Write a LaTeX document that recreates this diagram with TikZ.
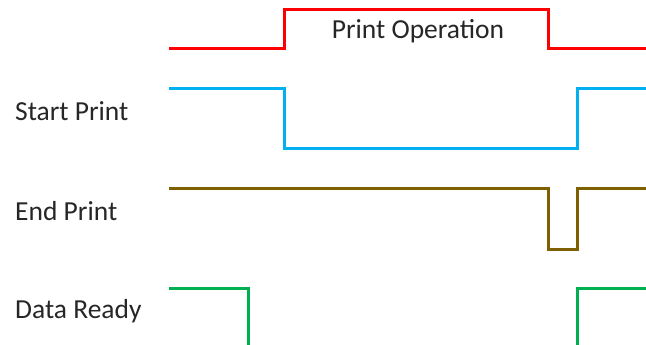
\documentclass[tikz,border=0pt]{standalone}
\usepackage{fontspec}
\setmainfont{Carlito}
\definecolor{opred}{HTML}{FF0000}
\definecolor{startblue}{HTML}{00B0F0}
\definecolor{endbrown}{HTML}{7F6000}
\definecolor{readygreen}{HTML}{00B050}
\tikzset{
  wave/.style={line width=3pt, line join=miter, line cap=butt},
  labelfont/.style={font=\fontsize{27.5}{32}\selectfont, text=black!85},
  siglabel/.style={labelfont, anchor=west, inner sep=0pt}
}
\begin{document}
\begin{tikzpicture}[x=1pt, y=-1pt]
  \useasboundingbox (0,0) rectangle (646,345);
  % Print Operation window
  \draw[wave, opred] (169,49) -- (284,49) -- (284,10) -- (548,10) -- (548,49) -- (646,49);
  \node[labelfont, inner sep=0pt] (op) at (418,31) {Print Operation};
  % Start Print
  \node[siglabel] (sp) at (15,111) {Start Print};
  \draw[wave, startblue] (169,89) -- (284,89) -- (284,148) -- (577,148) -- (577,89) -- (646,89);
  % End Print
  \node[siglabel] (ep) at (15,211) {End Print};
  \draw[wave, endbrown] (169,188) -- (548,188) -- (548,249) -- (577,249) -- (577,188) -- (646,188);
  % Data Ready
  \node[siglabel] (dr) at (15,311) {Data Ready};
  \draw[wave, readygreen] (169,288) -- (248,288) -- (248,346);
  \draw[wave, readygreen] (577,346) -- (577,288) -- (646,288);
\end{tikzpicture}
\end{document}
